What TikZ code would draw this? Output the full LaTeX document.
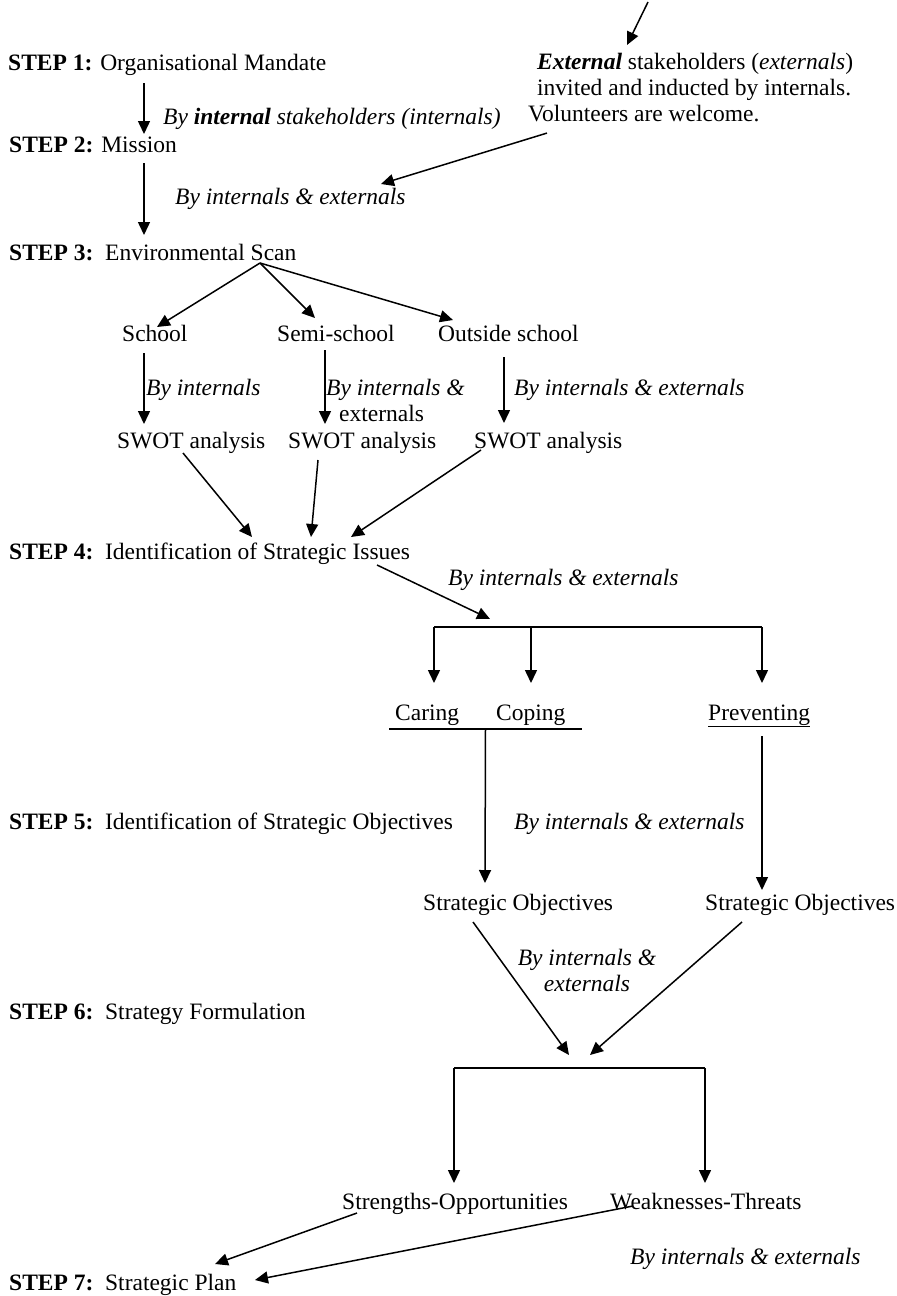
\documentclass[tikz,border=0pt]{standalone}
\usepackage{fontspec}
\setmainfont{Liberation Serif}
\usetikzlibrary{arrows.meta,calc}
\newcommand\dsize{\fontsize{23.5}{26}\selectfont}
\tikzset{
  every node/.style={inner sep=0pt,anchor=base west,font=\dsize},
  arr/.style={-{Triangle[length=13pt,width=12pt]},line width=1.5pt},
  brk/.style={line width=1.5pt},
  by/.style={font=\dsize\itshape},
}

\begin{document}
\begin{tikzpicture}[x=1pt,y=-1pt]
\useasboundingbox (0,0) rectangle (897,1296);

\node (step1) at (8,70) {\textbf{STEP 1:} Organisational Mandate};
\node (step2) at (9,152) {\textbf{STEP 2:} Mission};
\node (step3) at (9,260) {\textbf{STEP 3:}\ \ Environmental Scan};
\node (step4) at (9,559) {\textbf{STEP 4:}\ \ Identification of Strategic Issues};
\node (step5) at (9,829) {\textbf{STEP 5:}\ \ Identification of Strategic Objectives};
\node (step6) at (9,1019) {\textbf{STEP 6:}\ \ Strategy Formulation};
\node (step7) at (9,1290) {\textbf{STEP 7:}\ \ Strategic Plan};

\node[anchor=north west,align=left] (ext) at (537,53) {\textbf{\textit{External}} stakeholders (\textit{externals})\\
  invited and inducted by internals.\\
  \hspace*{-9pt}Volunteers are welcome.};
\node[by] (byint) at (163,124) {By \textbf{internal} stakeholders (internals)};
\node[by] (by2) at (175,204) {By internals \& externals};

\node (school) at (122,341) {School};
\node (semi) at (277,341) {Semi-school};
\node (outside) at (438,341) {Outside school};
\node[by] (by3a) at (146,395) {By internals};
\node[by,anchor=north west,align=left] (by3b) at (326,379) {By internals \&\\ \hspace*{13pt}\textup{externals}};
\node[by] (by3c) at (514,395) {By internals \& externals};
\node (swot1) at (117,448) {SWOT analysis};
\node (swot2) at (288,448) {SWOT analysis};
\node (swot3) at (474,448) {SWOT analysis};

\node[by] (by4) at (448,585) {By internals \& externals};
\node (caring) at (395,720) {Caring};
\node (coping) at (496,720) {Coping};
\node (prevent) at (708,720) {\underline{Preventing}};
\node[by] (by5) at (514,829) {By internals \& externals};
\node (so1) at (423,910) {Strategic Objectives};
\node (so2) at (705,910) {Strategic Objectives};
\node[by,anchor=north,align=center] (by6) at (587,949) {By internals \&\\externals};
\node (strop) at (342,1209) {Strengths-Opportunities};
\node (weth) at (610,1209) {Weaknesses-Threats};
\node[by] (by7) at (630,1264) {By internals \& externals};

\coordinate (incoming) at (648,2);
\coordinate (scan) at ([shift={(251,3)}]step3.base west);
\coordinate (fork1) at (490,619);
\coordinate (b1l) at (434,627);
\coordinate (b1m) at (531,627);
\coordinate (b1r) at (762,627);
\coordinate (ul1) at ([shift={(-6,9)}]caring.base west);
\coordinate (ul2) at ([shift={(86,9)}]coping.base west);
\coordinate (sf1) at (569,1055);
\coordinate (sf2) at (590,1055);
\coordinate (b2l) at (454,1068);
\coordinate (b2r) at (705,1068);

\draw[arr] (incoming) -- ([shift={(90,-8)}]ext.north west);
\draw[arr] ([shift={(136,13)}]step1.base west) -- ([shift={(135,-18)}]step2.base west);
\draw[arr] ([shift={(10,11)}]ext.south west) -- ([shift={(206,-20)}]by2.base west);
\draw[arr] ([shift={(135,11)}]step2.base west) -- ([shift={(135,-25)}]step3.base west);

\draw[arr] (scan) -- ([shift={(35,-14)}]school.base west);
\draw[arr] (scan) -- ([shift={(38,-23)}]semi.base west);
\draw[arr] (scan) -- ([shift={(15,-21)}]outside.base west);
\draw[arr] ([shift={(22,12)}]school.base west) -- ([shift={(27,-24)}]swot1.base west);
\draw[arr] ([shift={(48,9)}]semi.base west) -- ([shift={(37,-24)}]swot2.base west);
\draw[arr] ([shift={(66,16)}]outside.base west) -- ([shift={(30,-25)}]swot3.base west);
\draw[arr] ([shift={(66,5)}]swot1.base west) -- ([shift={(243,-22)}]step4.base west);
\draw[arr] ([shift={(30,12)}]swot2.base west) -- ([shift={(302,-22)}]step4.base west);
\draw[arr] ([shift={(7,2)}]swot3.base west) -- ([shift={(342,-22)}]step4.base west);

\draw[arr] ([shift={(368,6)}]step4.base west) -- (fork1);
\draw[brk] (b1l) -- (b1r);
\draw[arr] (b1l) -- ([shift={(39,-37)}]caring.base west);
\draw[arr] (b1m) -- ([shift={(35,-37)}]coping.base west);
\draw[arr] (b1r) -- ([shift={(54,-37)}]prevent.base west);

\draw[brk] (ul1) -- (ul2);
\draw[arr] ($(ul1)!.5!(ul2)$) -- ([shift={(62,-27)}]so1.base west);
\draw[arr] ([shift={(54,16)}]prevent.base west) -- ([shift={(57,-20)}]so2.base west);
\draw[arr] ([shift={(50,12)}]so1.base west) -- (sf1);
\draw[arr] ([shift={(37,12)}]so2.base west) -- (sf2);

\draw[brk] (b2l) -- (b2r);
\draw[arr] (b2l) -- ([shift={(112,-26)}]strop.base west);
\draw[arr] (b2r) -- ([shift={(95,-26)}]weth.base west);
\draw[arr] ([shift={(15,4)}]strop.base west) -- ([shift={(206,-26)}]step7.base west);
\draw[arr] ([shift={(23,-3)}]weth.base west) -- ([shift={(246,-10)}]step7.base west);
\end{tikzpicture}
\end{document}
